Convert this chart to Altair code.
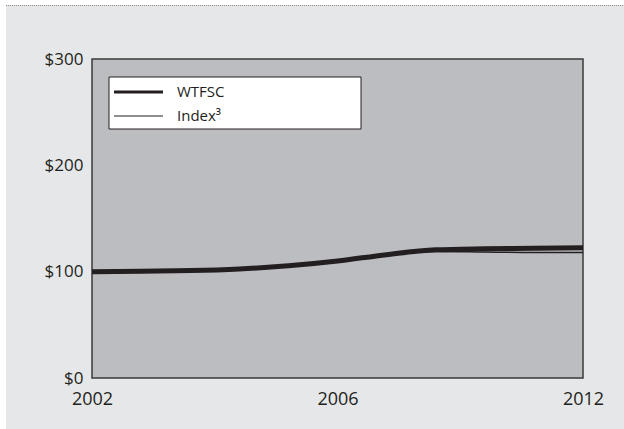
import altair as alt
import pandas as pd

# ---- data ----
periods = list(range(11))  # yearly steps across the chart
wtfsc = [100, 100.5, 101, 102.5, 105.5, 110, 116, 120.5, 121.5, 122, 122.5]
index3 = [100, 100.5, 101, 102.5, 105.5, 110, 116, 119, 118.5, 118, 118]
x_tick_values = [0, 5, 10]
x_tick_labels = ["2002", "2006", "2012"]
y_tick_values = [0, 100, 200, 300]
series_names = ["WTFSC", "Index\u00b3"]

df = pd.DataFrame({
    "t": periods * 2,
    "value": wtfsc + index3,
    "series": [series_names[0]] * len(periods) + [series_names[1]] * len(periods),
})

FONT = "Open Sans"
INK = "#231f20"
W, H = 491, 319
PL, PT = 92, 59

label_expr = "[" + ",".join(f"'{s}'" for s in x_tick_labels) + "][indexof(" + \
    "[" + ",".join(str(v) for v in x_tick_values) + "], datum.value)]"

x_enc = alt.X("t:Q", scale=alt.Scale(domain=[0, 10], nice=False),
              axis=alt.Axis(values=x_tick_values, labelExpr=label_expr, title=None,
                            grid=False, ticks=False, domain=False, labelFlush=False,
                            labelFontSize=18, labelFont=FONT, labelColor=INK,
                            labelPadding=12, labelBaseline="top"))
y_enc = alt.Y("value:Q", scale=alt.Scale(domain=[0, 300], nice=False),
              axis=alt.Axis(values=y_tick_values, labelExpr="'$' + datum.value", title=None,
                            grid=False, ticks=False, domain=False,
                            labelFontSize=17, labelFont=FONT, labelColor=INK,
                            labelPadding=9, labelBaseline="middle"))

one = alt.Data(values=[{}])

white_top = alt.Chart(one).mark_rect(color="white").encode(
    x=alt.value(-PL), x2=alt.value(624 - PL), y=alt.value(-PT), y2=alt.value(-PT + 5))
white_left = alt.Chart(one).mark_rect(color="white").encode(
    x=alt.value(-PL), x2=alt.value(-PL + 6), y=alt.value(-PT), y2=alt.value(429 - PT))
dotted = alt.Chart(one).mark_rule(color="#8a8a8a", strokeWidth=1, strokeDash=[1, 1]).encode(
    x=alt.value(-PL + 6), x2=alt.value(624 - PL), y=alt.value(-PT + 5.5))

thin = alt.Chart(df).transform_filter(alt.datum.series == series_names[1]).mark_line(
    color=INK, strokeWidth=1.5, interpolate="monotone").encode(x=x_enc, y=y_enc)
thick = alt.Chart(df).transform_filter(alt.datum.series == series_names[0]).mark_line(
    color=INK, strokeWidth=5, interpolate="monotone").encode(x=x_enc, y=y_enc)

# legend box
lx0, lx1, ly0, ly1 = 17, 269, 18, 70
leg_box = alt.Chart(one).mark_rect(fill="white", stroke=INK, strokeWidth=1).encode(
    x=alt.value(lx0), x2=alt.value(lx1), y=alt.value(ly0), y2=alt.value(ly1))
leg_l1 = alt.Chart(one).mark_rule(color=INK, strokeWidth=3).encode(
    x=alt.value(22), x2=alt.value(71), y=alt.value(33))
leg_l2 = alt.Chart(one).mark_rule(color=INK, strokeWidth=1).encode(
    x=alt.value(22), x2=alt.value(71), y=alt.value(57))
leg_t1 = alt.Chart(one).mark_text(text=series_names[0], align="left", baseline="middle",
                                   font=FONT, fontSize=15, color=INK).encode(
    x=alt.value(85), y=alt.value(33))
leg_t2 = alt.Chart(one).mark_text(text=series_names[1], align="left", baseline="middle",
                                   font=FONT, fontSize=15, color=INK).encode(
    x=alt.value(85), y=alt.value(57))

chart = alt.layer(
    white_top, white_left, dotted, thin, thick,
    leg_box, leg_l1, leg_l2, leg_t1, leg_t2,
).properties(
    width=W, height=H,
    autosize=alt.AutoSizeParams(type="none"),
    padding={"left": PL, "top": PT, "right": 624 - PL - W, "bottom": 429 - PT - H},
    background="#e6e7e8",
).configure_view(
    fill="#bcbdc0", stroke="#3a3a3a", strokeWidth=1.5,
)

chart.save("out.html", embed_options={"renderer": "svg", "actions": False})
